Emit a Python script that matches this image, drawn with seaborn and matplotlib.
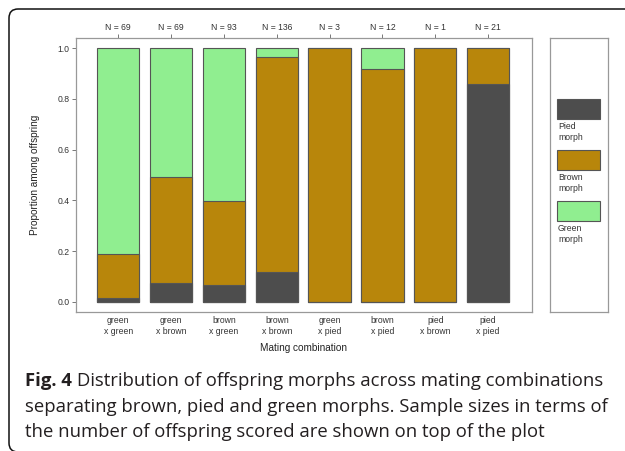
import matplotlib
matplotlib.use("Agg")
import matplotlib.pyplot as plt
from matplotlib.patches import Rectangle, FancyBboxPatch
import numpy as np
import pandas as pd
import seaborn as sns

# data: offspring counts per mating combination
crosses = ['green\nx green', 'green\nx brown', 'brown\nx green', 'brown\nx brown',
           'green\nx pied', 'brown\nx pied', 'pied\nx brown', 'pied\nx pied']
n_total = [69, 69, 93, 136, 3, 12, 1, 21]
pied = [1, 5, 6, 16, 0, 0, 0, 18]
brown = [12, 29, 31, 115, 3, 11, 1, 3]
green = [56, 35, 56, 5, 0, 1, 0, 0]
y_ticks = [0.0, 0.2, 0.4, 0.6, 0.8, 1.0]

morph_names = ['Pied\nmorph', 'Brown\nmorph', 'Green\nmorph']
col_pied, col_brown, col_green = '#4d4d4d', '#b8860b', '#90ee90'

n = np.array(n_total, dtype=float)
df = pd.DataFrame({
    'cross': crosses,
    'pied': np.array(pied) / n,
    'pied_brown': (np.array(pied) + np.array(brown)) / n,
    'all': (np.array(pied) + np.array(brown) + np.array(green)) / n,
})

sns.set_theme(style='ticks')
plt.rcParams['font.family'] = ['Liberation Sans', 'DejaVu Sans']

W, H = 625, 451
fig = plt.figure(figsize=(W / 100, H / 100), dpi=100)


def fx(x):
    return x / W


def fy(y):
    return 1 - y / H


ax = fig.add_axes([fx(76), fy(312), (532 - 76) / W, (312 - 38) / H])

edge = '#555555'
for col, c in [('all', col_green), ('pied_brown', col_brown), ('pied', col_pied)]:
    sns.barplot(data=df, x='cross', y=col, color=c, saturation=1, width=0.8,
                edgecolor=edge, linewidth=0.8, ax=ax)

ax.set_xlim(-0.8, 7.83)
ax.set_ylim(-0.04, 1.04)
ax.set_yticks(y_ticks, labels=['%.1f' % v for v in y_ticks])
ax.tick_params(axis='y', length=3, width=0.7, color='#777777', labelsize=6.2,
               labelcolor='#333333', pad=1.5)
ax.tick_params(axis='x', length=0, labelsize=6.2, labelcolor='#333333', pad=3)
for s in ax.spines.values():
    s.set_visible(True)
    s.set_color('#999999')
    s.set_linewidth(0.9)

ax.set_ylabel('Proportion among offspring', fontsize=7.2, color='#222222')
ax.yaxis.set_label_coords(-0.079, 0.5)
ax.set_xlabel('Mating combination', fontsize=7.2, color='#222222')
ax.xaxis.set_label_coords(0.5, -0.113)

top = ax.secondary_xaxis('top')
top.set_xticks(range(len(n_total)), labels=['N = %d' % v for v in n_total])
top.tick_params(length=3, width=0.7, color='#777777', labelsize=6.2,
                labelcolor='#333333', pad=1.5)
top.spines['top'].set_visible(False)

# legend box
lax = fig.add_axes([fx(550), fy(312), 58 / W, 274 / H])
lax.set_xlim(0, 58)
lax.set_ylim(274, 0)
lax.set_xticks([])
lax.set_yticks([])
for s in lax.spines.values():
    s.set_color('#999999')
    s.set_linewidth(0.9)
for i, (name, c) in enumerate(zip(morph_names, [col_pied, col_brown, col_green])):
    y0 = 61 + i * 51
    lax.add_patch(Rectangle((7, y0), 43, 20, facecolor=c, edgecolor=edge, linewidth=0.8))
    lax.text(8, y0 + 23, name, fontsize=6.2, color='#333333', va='top', ha='left',
             linespacing=1.25)

# rounded panel frame
frame = FancyBboxPatch((fx(9), fy(452)), fx(700), (452 - 9) / H,
                       boxstyle='round,pad=0,rounding_size=0.0145',
                       transform=fig.transFigure, facecolor='none',
                       edgecolor='#111111', linewidth=1.1, clip_on=False,
                       mutation_aspect=W / H)
fig.patches.append(frame)

# caption
cap_kw = dict(fontsize=13.3, color='#231f20', family=['Open Sans', 'DejaVu Sans'],
              va='baseline', ha='left')
t = fig.text(fx(25), fy(386), 'Fig. 4', fontweight='bold', **cap_kw)
fig.canvas.draw()
bb = t.get_window_extent()
fig.text(bb.x1 / W + 5 / W, fy(386),
         'Distribution of offspring morphs across mating combinations', **cap_kw)
fig.text(fx(25), fy(411.5),
         'separating brown, pied and green morphs. Sample sizes in terms of', **cap_kw)
fig.text(fx(25), fy(437),
         'the number of offspring scored are shown on top of the plot', **cap_kw)

fig.savefig('out.png', dpi=100)
